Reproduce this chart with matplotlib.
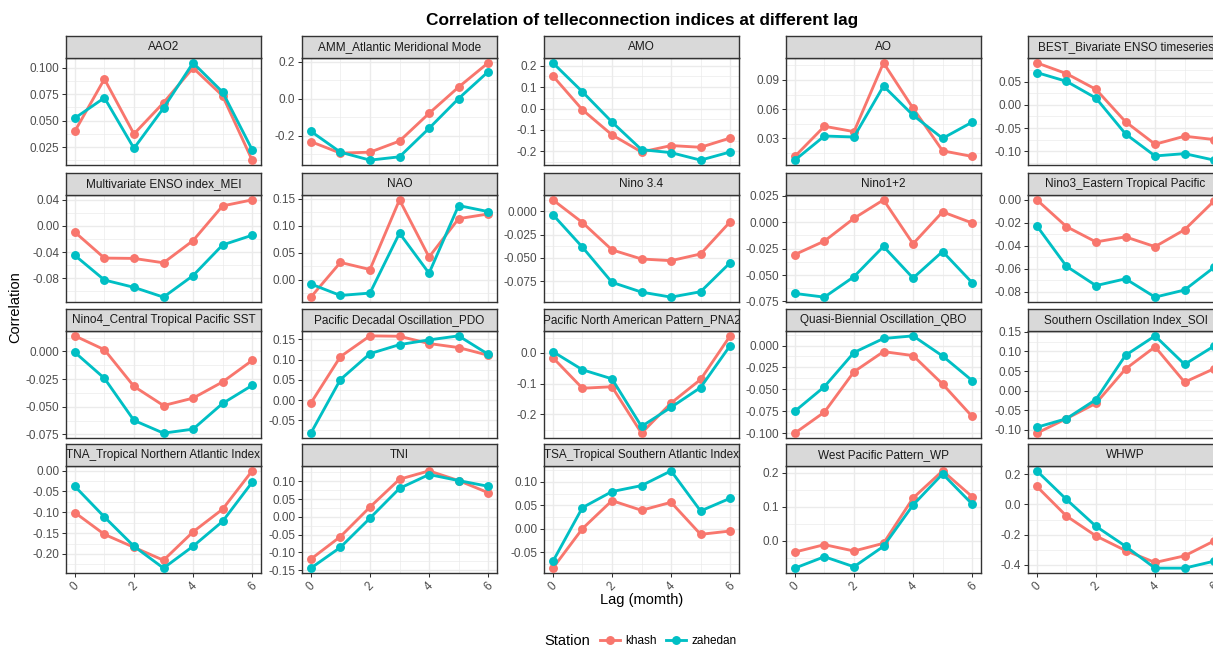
import numpy as np
import matplotlib
matplotlib.use("Agg")
import matplotlib.pyplot as plt
from matplotlib.lines import Line2D

plt.rcParams['font.family'] = ['Liberation Sans', 'DejaVu Sans']

# ---------------- data ----------------
lags = [0, 1, 2, 3, 4, 5, 6]
stations = ["khash", "zahedan"]
station_colors = ["#F8766D", "#00BFC4"]

indices = [
    "AAO2", "AMM_Atlantic Meridional Mode", "AMO", "AO", "BEST_Bivariate ENSO timeseries",
    "Multivariate ENSO index_MEI", "NAO", "Nino 3.4", "Nino1+2", "Nino3_Eastern Tropical Pacific",
    "Nino4_Central Tropical Pacific SST", "Pacific Decadal Oscillation_PDO",
    "Pacific North American Pattern_PNA2", "Quasi-Biennial Oscillation_QBO",
    "Southern Oscillation Index_SOI",
    "TNA_Tropical Northern Atlantic Index", "TNI", "TSA_Tropical Southern Atlantic Index",
    "West Pacific Pattern_WP", "WHWP",
]

khash = [
    [0.040, 0.0895, 0.0374, 0.067, 0.100, 0.0736, 0.0126],
    [-0.233, -0.295, -0.290, -0.230, -0.080, 0.062, 0.193],
    [0.152, -0.006, -0.123, -0.203, -0.173, -0.181, -0.138],
    [0.0114, 0.0424, 0.0369, 0.1076, 0.061, 0.0172, 0.0114],
    [0.0904, 0.0673, 0.0334, -0.0363, -0.0848, -0.0675, -0.0747],
    [-0.0097, -0.0492, -0.0497, -0.0564, -0.0226, 0.0303, 0.0395],
    [-0.0324, 0.0318, 0.0187, 0.1475, 0.0417, 0.1127, 0.1214],
    [0.0123, -0.012, -0.0413, -0.0511, -0.0529, -0.0457, -0.0112],
    [-0.0306, -0.0178, 0.0038, 0.0213, -0.0204, 0.0099, -0.0006],
    [-0.0003, -0.0235, -0.0368, -0.0324, -0.0409, -0.0262, -0.0012],
    [0.014, 0.0015, -0.0316, -0.0489, -0.0422, -0.0276, -0.0082],
    [-0.0075, 0.1075, 0.159, 0.158, 0.140, 0.130, 0.111],
    [-0.0153, -0.1148, -0.110, -0.261, -0.163, -0.0863, 0.0557],
    [-0.100, -0.076, -0.030, -0.007, -0.0115, -0.044, -0.081],
    [-0.109, -0.072, -0.0326, 0.0552, 0.112, 0.0215, 0.056],
    [-0.1008, -0.153, -0.184, -0.215, -0.147, -0.0927, -0.0008],
    [-0.1189, -0.0557, 0.0274, 0.1057, 0.1292, 0.1019, 0.0679],
    [-0.0843, 0.0, 0.060, 0.0393, 0.0564, -0.0121, -0.005],
    [-0.0337, -0.0119, -0.0307, -0.0079, 0.1257, 0.2059, 0.1297],
    [0.1187, -0.0769, -0.2088, -0.3055, -0.3846, -0.3407, -0.2418],
]

zahedan = [
    [0.0524, 0.0717, 0.0238, 0.0619, 0.1048, 0.0771, 0.0225],
    [-0.177, -0.290, -0.333, -0.315, -0.161, 0.000, 0.145],
    [0.213, 0.078, -0.063, -0.192, -0.206, -0.241, -0.203],
    [0.0076, 0.0324, 0.0314, 0.0838, 0.0538, 0.030, 0.0466],
    [0.0695, 0.0507, 0.0146, -0.0625, -0.110, -0.105, -0.119],
    [-0.0451, -0.0826, -0.0938, -0.1087, -0.0759, -0.0292, -0.0144],
    [-0.0081, -0.0293, -0.0249, 0.0859, 0.0118, 0.137, 0.1258],
    [-0.0036, -0.0384, -0.0761, -0.0866, -0.092, -0.0862, -0.0551],
    [-0.0675, -0.0710, -0.0516, -0.0229, -0.0529, -0.0277, -0.0573],
    [-0.0229, -0.0579, -0.0747, -0.0688, -0.0847, -0.0785, -0.0588],
    [-0.0009, -0.0243, -0.0623, -0.0738, -0.0702, -0.047, -0.0307],
    [-0.082, 0.0508, 0.1149, 0.1373, 0.149, 0.159, 0.1134],
    [0.0044, -0.0546, -0.0842, -0.2393, -0.177, -0.1125, 0.024],
    [-0.075, -0.047, -0.008, 0.008, 0.011, -0.012, -0.040],
    [-0.094, -0.072, -0.023, 0.0902, 0.140, 0.067, 0.114],
    [-0.0379, -0.1113, -0.1815, -0.2339, -0.1815, -0.1218, -0.0282],
    [-0.1443, -0.0858, -0.0038, 0.080, 0.1189, 0.1019, 0.0858],
    [-0.070, 0.045, 0.0793, 0.0921, 0.1236, 0.0379, 0.065],
    [-0.0812, -0.0475, -0.0772, -0.0168, 0.105, 0.197, 0.108],
    [0.222, 0.033, -0.145, -0.2769, -0.422, -0.422, -0.3758],
]

y_breaks = [
    [0.025, 0.050, 0.075, 0.100],
    [-0.2, 0.0, 0.2],
    [-0.2, -0.1, 0.0, 0.1, 0.2],
    [0.03, 0.06, 0.09],
    [-0.10, -0.05, 0.00, 0.05],
    [-0.08, -0.04, 0.00, 0.04],
    [0.00, 0.05, 0.10, 0.15],
    [-0.075, -0.050, -0.025, 0.000],
    [-0.075, -0.050, -0.025, 0.000, 0.025],
    [-0.08, -0.06, -0.04, -0.02, 0.00],
    [-0.075, -0.050, -0.025, 0.000],
    [-0.05, 0.00, 0.05, 0.10, 0.15],
    [-0.2, -0.1, 0.0],
    [-0.100, -0.075, -0.050, -0.025, 0.000],
    [-0.10, -0.05, 0.00, 0.05, 0.10, 0.15],
    [-0.20, -0.15, -0.10, -0.05, 0.00],
    [-0.15, -0.10, -0.05, 0.00, 0.05, 0.10],
    [-0.05, 0.00, 0.05, 0.10],
    [0.0, 0.1, 0.2],
    [-0.4, -0.2, 0.0, 0.2],
]
x_breaks = [0, 2, 4, 6]

# ---------------- helpers ----------------
def decimals_needed(vals):
    d = 0
    for v in vals:
        k = 0
        while k < 6 and abs(round(v, k) - v) > 1e-9:
            k += 1
        d = max(d, k)
    return d

def fmt_labels(vals):
    d = decimals_needed(vals)
    out = []
    for v in vals:
        s = f"{v:.{d}f}"
        if s.startswith("-") and float(s) == 0:
            s = s[1:]
        out.append(s)
    return out

# ---------------- layout ----------------
W, H = 1213, 646
DPI = 100
fig = plt.figure(figsize=(W / DPI, H / DPI), dpi=DPI)
fig.patch.set_facecolor("white")

col_left = [66, 302, 544, 786, 1028]
panel_w = 195
strip_top = [36, 173, 309, 444]
strip_h = 22
panel_h = 107

GRID = "#EBEBEB"
BORDER = "#333333"
TICKTXT = "#4D4D4D"
fs_tick = 8.45
fs_title_ax = 10.56

for i, name in enumerate(indices):
    r, c = divmod(i, 5)
    left = col_left[c]
    top = strip_top[r] + strip_h
    ax = fig.add_axes([left / W, 1 - (top + panel_h) / H, panel_w / W, panel_h / H])
    sax = fig.add_axes([left / W, 1 - top / H, panel_w / W, strip_h / H])

    # strip
    sax.set_facecolor("#D9D9D9")
    sax.set_xticks([])
    sax.set_yticks([])
    for sp in sax.spines.values():
        sp.set_color(BORDER)
        sp.set_linewidth(1.0)
    sax.text(0.5, 0.5, name, ha="center", va="center", fontsize=fs_tick,
             color="#1A1A1A", transform=sax.transAxes, clip_on=True)

    # data
    for vals, col in zip([khash[i], zahedan[i]], station_colors):
        ax.plot(lags, vals, color=col, lw=2.05, marker="o", ms=5.4,
                solid_capstyle="butt", zorder=3)

    allv = np.array(khash[i] + zahedan[i])
    lo, hi = allv.min(), allv.max()
    rng = hi - lo
    ylo, yhi = lo - 0.05 * rng, hi + 0.05 * rng
    ax.set_ylim(ylo, yhi)
    ax.set_xlim(-0.3, 6.3)

    yb = y_breaks[i]
    ax.set_yticks(yb)
    ax.set_yticklabels(fmt_labels(yb))
    step = yb[1] - yb[0]
    ext = [yb[0] - step] + yb + [yb[-1] + step]
    yminor = [(a + b) / 2 for a, b in zip(ext[:-1], ext[1:])]
    yminor = [m for m in yminor if ylo <= m <= yhi]
    ax.set_yticks(yminor, minor=True)

    ax.set_xticks(x_breaks)
    ax.set_xticks([1, 3, 5], minor=True)

    ax.grid(which="major", color=GRID, lw=1.0)
    ax.grid(which="minor", color=GRID, lw=0.5)
    ax.set_axisbelow(True)

    ax.tick_params(which="minor", length=0)
    ax.tick_params(axis="y", which="major", length=2.7, width=0.75, color=BORDER,
                   labelsize=fs_tick, labelcolor=TICKTXT, pad=2.2)
    bottom = (r == 3)
    ax.tick_params(axis="x", which="major", length=2.7 if bottom else 0, width=0.75,
                   color=BORDER, labelsize=fs_tick, labelcolor=TICKTXT, pad=2.2,
                   labelbottom=bottom)
    if bottom:
        ax.set_xticklabels([str(v) for v in x_breaks], rotation=45, ha="center", va="top")

    for sp in ax.spines.values():
        sp.set_color(BORDER)
        sp.set_linewidth(1.0)

# titles
fig.text(642 / W, 1 - 20 / H, "Correlation of telleconnection indices at different lag",
         ha="center", va="center", fontsize=12.4, weight="bold", color="black")
fig.text(15 / W, 1 - 307 / H, "Correlation", rotation=90, ha="center", va="center",
         fontsize=fs_title_ax, color="black")
fig.text(642 / W, 1 - 600 / H, "Lag (momth)", ha="center", va="center",
         fontsize=fs_title_ax, color="black")

# legend
fig.text(567 / W, 1 - 641 / H, "Station", ha="center", va="center",
         fontsize=fs_title_ax, color="black")
handles = [Line2D([], [], color=c, lw=2.05, marker="o", ms=5.4) for c in station_colors]
fig.legend(handles, stations, loc="center", bbox_to_anchor=(668 / W, 1 - 641 / H),
           ncol=2, frameon=False, handlelength=1.7, handletextpad=0.45,
           columnspacing=0.8, fontsize=fs_tick, borderpad=0, borderaxespad=0)

fig.savefig("out.png", dpi=DPI, facecolor="white")
